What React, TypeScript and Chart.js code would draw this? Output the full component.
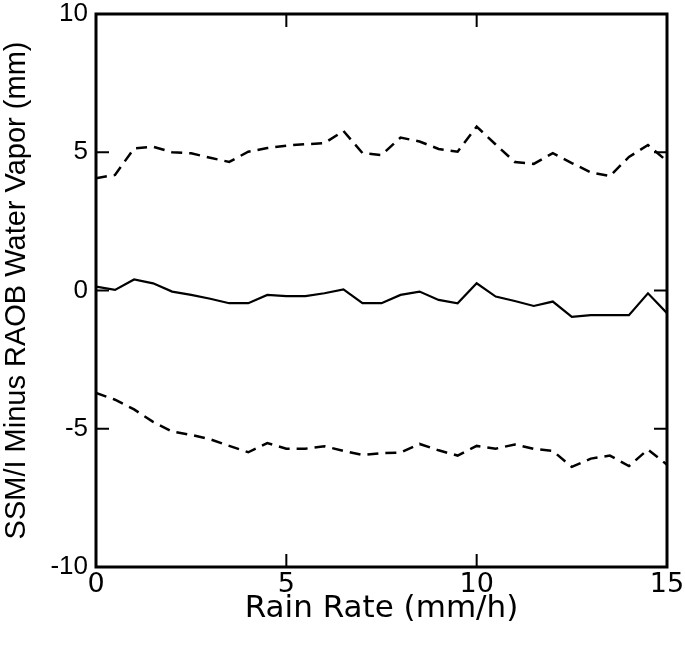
import React, { useEffect, useRef } from "react";
import { Chart, registerables } from "chart.js";

Chart.register(...registerables);

const rainRate = [
  0, 0.5, 1, 1.5, 2, 2.5, 3, 3.5, 4, 4.5, 5, 5.5, 6, 6.5, 7, 7.5, 8, 8.5, 9, 9.5,
  10, 10.5, 11, 11.5, 12, 12.5, 13, 13.5, 14, 14.5, 15,
];

const meanDiff = [
  0.14, 0.02, 0.4, 0.26, -0.04, -0.16, -0.3, -0.46, -0.46, -0.16, -0.2, -0.2,
  -0.1, 0.04, -0.46, -0.46, -0.16, -0.04, -0.34, -0.46, 0.26, -0.22, -0.38,
  -0.56, -0.4, -0.95, -0.89, -0.89, -0.89, -0.1, -0.82,
];

const upperBound = [
  4.06, 4.18, 5.14, 5.2, 5.0, 4.96, 4.8, 4.65, 5.02, 5.15, 5.24, 5.29, 5.33,
  5.77, 4.97, 4.9, 5.53, 5.39, 5.12, 5.02, 5.93, 5.28, 4.65, 4.58, 4.97, 4.61,
  4.27, 4.14, 4.83, 5.26, 4.68,
];

const lowerBound = [
  -3.7, -3.95, -4.3, -4.75, -5.1, -5.22, -5.38, -5.62, -5.85, -5.52, -5.72,
  -5.72, -5.63, -5.8, -5.95, -5.88, -5.86, -5.55, -5.78, -5.97, -5.62, -5.72,
  -5.57, -5.73, -5.8, -6.38, -6.08, -5.97, -6.35, -5.75, -6.3,
];

const xTickMarks = [5, 10];
const yTickMarks = [-5, 0, 5];

const framePlugin = {
  id: "frame",
  afterDatasetsDraw(chart: any) {
    const { ctx, chartArea, scales } = chart;
    const { left, right, top, bottom } = chartArea;
    const x = scales.x;
    const y = scales.y;
    ctx.save();
    ctx.strokeStyle = "#000";
    ctx.lineWidth = 3;
    ctx.strokeRect(left, top, right - left, bottom - top);
    ctx.lineWidth = 2;
    const len = 13;
    ctx.beginPath();
    for (const v of xTickMarks) {
      const px = x.getPixelForValue(v);
      ctx.moveTo(px, bottom);
      ctx.lineTo(px, bottom - len);
      ctx.moveTo(px, top);
      ctx.lineTo(px, top + len);
    }
    for (const v of yTickMarks) {
      const py = y.getPixelForValue(v);
      ctx.moveTo(left, py);
      ctx.lineTo(left + len, py);
      ctx.moveTo(right, py);
      ctx.lineTo(right - len, py);
    }
    ctx.stroke();
    ctx.restore();
  },
};

export default function App() {
  const canvasRef = useRef<HTMLCanvasElement | null>(null);

  useEffect(() => {
    if (!canvasRef.current) return;
    const toPts = (ys: number[]) => rainRate.map((x, i) => ({ x, y: ys[i] }));
    const chart = new Chart(canvasRef.current, {
      type: "line",
      data: {
        datasets: [
          {
            label: "Mean",
            data: toPts(meanDiff),
            borderColor: "#000",
            borderWidth: 2.2,
            pointRadius: 0,
            tension: 0,
            fill: false,
          },
          {
            label: "Upper",
            data: toPts(upperBound),
            borderColor: "#000",
            borderWidth: 2.5,
            borderDash: [11, 7],
            pointRadius: 0,
            tension: 0,
            fill: false,
          },
          {
            label: "Lower",
            data: toPts(lowerBound),
            borderColor: "#000",
            borderWidth: 2.5,
            borderDash: [11, 7],
            pointRadius: 0,
            tension: 0,
            fill: false,
          },
        ],
      },
      options: {
        animation: false,
        responsive: true,
        maintainAspectRatio: false,
        layout: { padding: { left: 0, right: 18, top: 14, bottom: 0 } },
        plugins: {
          legend: { display: false },
          tooltip: { enabled: false },
        },
        scales: {
          x: {
            type: "linear",
            min: 0,
            max: 15,
            grid: { display: false, drawTicks: false },
            border: { display: false },
            ticks: {
              stepSize: 5,
              color: "#000",
              padding: 2,
              maxRotation: 0,
              autoSkip: false,
              font: { family: "DejaVu Sans", size: 27, lineHeight: 1.2 },
            },
            title: {
              display: true,
              text: "Rain Rate (mm/h)",
              color: "#000",
              font: { family: "DejaVu Sans", size: 31, lineHeight: 1 },
              padding: { top: 0, bottom: 21 },
            },
            afterFit: (s: any) => {
              s.height = 78;
              s.paddingLeft = 0;
              s.paddingRight = 0;
            },
          },
          y: {
            type: "linear",
            min: -10,
            max: 10,
            grid: { display: false, drawTicks: false },
            border: { display: false },
            ticks: {
              stepSize: 5,
              color: "#000",
              padding: 8,
              font: { family: "Liberation Sans", size: 26, lineHeight: 1.2 },
            },
            title: {
              display: true,
              text: "SSM/I Minus RAOB Water Vapor (mm)",
              color: "#000",
              font: { family: "Liberation Sans", size: 29, lineHeight: 1 },
              padding: { top: 2, bottom: 0 },
            },
            afterFit: (s: any) => {
              s.width = 96;
              s.paddingTop = 0;
              s.paddingBottom = 0;
            },
          },
        },
      },
      plugins: [framePlugin],
    });
    return () => chart.destroy();
  }, []);

  return (
    <div
      style={{
        position: "absolute",
        left: 0,
        top: 0,
        width: 685,
        height: 645,
        background: "#fff",
      }}
    >
      <canvas ref={canvasRef} />
    </div>
  );
}
